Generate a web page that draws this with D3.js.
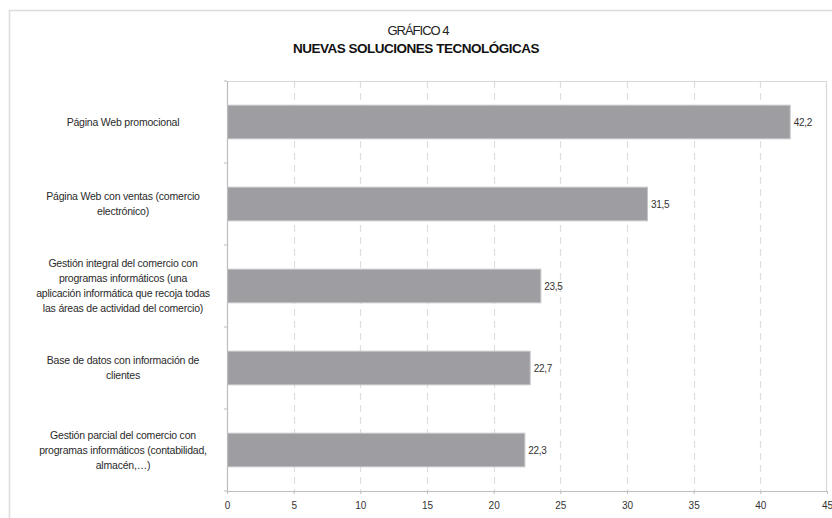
<!DOCTYPE html>
<html>
<head>
<meta charset="utf-8">
<script src="https://cdn.jsdelivr.net/npm/d3@7"></script>
<style>
  html, body { margin: 0; padding: 0; background: #fff; }
  svg { display: block; font-family: "Liberation Sans", Arial, sans-serif; }
</style>
</head>
<body>
<svg id="chart" width="832" height="518"></svg>
<script>
const titleLine1 = "GRÁFICO 4";
const titleLine2 = "NUEVAS SOLUCIONES TECNOLÓGICAS";
const categories = [
  "Página Web promocional",
  "Página Web con ventas (comercio electrónico)",
  "Gestión integral del comercio con programas informáticos (una aplicación informática que recoja todas las áreas de actividad del comercio)",
  "Base de datos con información de clientes",
  "Gestión parcial del comercio con programas informáticos (contabilidad, almacén,…)"
];
const categoryLines = [
  ["Página Web promocional"],
  ["Página Web con ventas (comercio", "electrónico)"],
  ["Gestión integral del comercio con", "programas informáticos (una", "aplicación informática que recoja todas", "las áreas de actividad del comercio)"],
  ["Base de datos con información de", "clientes"],
  ["Gestión parcial del comercio con", "programas informáticos (contabilidad,", "almacén,…)"]
];
const values = [42.2, 31.5, 23.5, 22.7, 22.3];
const xTicks = [0, 5, 10, 15, 20, 25, 30, 35, 40, 45];

const svg = d3.select("#chart");
const plot = { left: 227, right: 827, top: 81, bottom: 491 };

// outer frame
svg.append("rect")
  .attr("x", 9.5).attr("y", 10.5)
  .attr("width", 840).attr("height", 540)
  .attr("fill", "none").attr("stroke", "#dcdcdc").attr("stroke-width", 1.5);

// titles
svg.append("text")
  .attr("x", 418).attr("y", 34.5)
  .attr("text-anchor", "middle")
  .attr("font-size", 13).attr("letter-spacing", -1)
  .attr("fill", "#222")
  .text(titleLine1);
svg.append("text")
  .attr("x", 416).attr("y", 52.5)
  .attr("text-anchor", "middle")
  .attr("font-size", 13.5).attr("font-weight", "bold").attr("letter-spacing", -0.5)
  .attr("fill", "#111")
  .text(titleLine2);

const x = d3.scaleLinear().domain([0, 45]).range([plot.left, plot.right]);
const y = d3.scaleBand().domain(categories).range([plot.top, plot.bottom])
  .paddingInner(0.59).paddingOuter(0.295);

// gridlines
svg.append("g").selectAll("line")
  .data(xTicks.filter(t => t > 0 && t < 45))
  .join("line")
  .attr("x1", d => Math.round(x(d)) + 0.5).attr("x2", d => Math.round(x(d)) + 0.5)
  .attr("y1", plot.top).attr("y2", plot.bottom)
  .attr("stroke", "#dedede").attr("stroke-width", 1.2)
  .attr("stroke-dasharray", "7,5");

// plot border top/right
svg.append("path")
  .attr("d", `M${plot.left},${plot.top + 0.5}H${plot.right - 0.5}V${plot.bottom}`)
  .attr("fill", "none").attr("stroke", "#d8d8d8").attr("stroke-width", 1.2);

// bars
svg.append("g").selectAll("rect")
  .data(values)
  .join("rect")
  .attr("x", x(0) + 0.5)
  .attr("y", (d, i) => y(categories[i]))
  .attr("width", d => x(d) - x(0))
  .attr("height", y.bandwidth())
  .attr("fill", "#9e9da2")
  .attr("stroke", "#c4c4c6").attr("stroke-width", 1);

// value labels
svg.append("g").selectAll("text")
  .data(values)
  .join("text")
  .attr("x", d => x(d) + 4)
  .attr("y", (d, i) => y(categories[i]) + y.bandwidth() / 2 + 3.5)
  .attr("font-size", 10).attr("letter-spacing", -0.3)
  .attr("fill", "#333")
  .text(d => d3.format(".1f")(d).replace(".", ","));

// bottom axis
const xAxis = d3.axisBottom(x).tickValues(xTicks).tickSize(3).tickSizeOuter(0)
  .tickFormat(d => String(d));
const gx = svg.append("g").attr("transform", `translate(0,${plot.bottom})`).call(xAxis);
gx.select(".domain").attr("stroke", "#bdbdbd").attr("stroke-width", 1.2);
gx.selectAll(".tick line").attr("stroke", "#bdbdbd");
gx.selectAll(".tick text")
  .attr("font-family", "'Liberation Sans', Arial, sans-serif")
  .attr("font-size", 10).attr("fill", "#333").attr("dy", "1.2em");

// left axis (band boundary ticks)
const boundaries = categories.map(c => y(c) - y.step() * y.paddingOuter());
boundaries.push(plot.bottom);
svg.append("line")
  .attr("x1", plot.left + 0.5).attr("x2", plot.left + 0.5)
  .attr("y1", plot.top).attr("y2", plot.bottom)
  .attr("stroke", "#bdbdbd").attr("stroke-width", 1.2);
svg.append("g").selectAll("line")
  .data(boundaries)
  .join("line")
  .attr("x1", plot.left - 3).attr("x2", plot.left)
  .attr("y1", d => d).attr("y2", d => d)
  .attr("stroke", "#bdbdbd");

// category labels
const lineH = 15;
const labelX = 123;
const lg = svg.append("g");
categoryLines.forEach((lines, i) => {
  const cy = y(categories[i]) + y.bandwidth() / 2;
  const t = lg.append("text")
    .attr("text-anchor", "middle")
    .attr("font-size", 10.5).attr("letter-spacing", -0.2)
    .attr("fill", "#2a2a2a");
  lines.forEach((ln, j) => {
    t.append("tspan")
      .attr("x", labelX)
      .attr("y", cy + (j - (lines.length - 1) / 2) * lineH + 3.5)
      .text(ln);
  });
});
</script>
</body>
</html>
